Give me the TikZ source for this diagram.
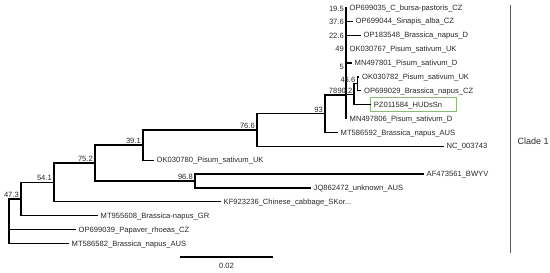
\documentclass[tikz,border=0pt]{standalone}
\usepackage{fontspec}
\setmainfont{Liberation Sans}
\usetikzlibrary{positioning}

\definecolor{boxgreen}{RGB}{140,185,120}
\definecolor{txtgray}{RGB}{40,40,40}

\tikzset{
    branch/.style={line width=1.2pt, line cap=rect},
    leaf/.style={inner sep=0pt, text height=5.4pt, text depth=0.2pt,
        font=\fontsize{7.6}{9}\selectfont, text=txtgray},
    boot/.style={inner sep=0pt, font=\fontsize{7.6}{9}\selectfont, text=txtgray},
    markbox/.style={leaf, draw=boxgreen, line width=0.7pt, inner xsep=3.5pt,
        inner ysep=4.2pt, text width=79pt, align=left}
}

\begin{document}
\begin{tikzpicture}[x=1pt,y=-1pt]

    \useasboundingbox (0,0) rectangle (550,273);

    % inner nodes
    \coordinate (root) at (9,199);
    \coordinate (n47) at (21,199);
    \coordinate (n54) at (54,182.4);
    \coordinate (n75) at (95,163);
    \coordinate (n96) at (195,181);
    \coordinate (n39) at (143,145);
    \coordinate (n76) at (257,130);
    \coordinate (n93) at (325,113.7);
    \coordinate (n78) at (346,95);
    \coordinate (n90) at (354,94.3);
    \coordinate (n45) at (357.5,83.8);

    % tips and their labels
    \foreach \n/\x/\lbl in {
        1/346/OP699035\_C\_bursa-pastoris\_CZ,
        2/352/OP699044\_Sinapis\_alba\_CZ,
        3/360/OP183548\_Brassica\_napus\_D,
        4/346/OK030767\_Pisum\_sativum\_UK,
        5/351/MN497801\_Pisum\_sativum\_D,
        6/358.5/OK030782\_Pisum\_sativum\_UK,
        7/360.5/OP699029\_Brassica\_napus\_CZ,
        9/346/MN497806\_Pisum\_sativum\_D,
        10/337/MT586592\_Brassica\_napus\_AUS,
        11/443/NC\_003743,
        12/153/OK030780\_Pisum\_sativum\_UK,
        13/423/AF473561\_BWYV,
        14/310/JQ862472\_unknown\_AUS,
        15/220/{KF923236\_Chinese\_cabbage\_SKor{.}{.}{.}},
        16/97/MT955608\_Brassica-napus\_GR,
        17/75/OP699039\_Papaver\_rhoeas\_CZ,
        18/68/MT586582\_Brassica\_napus\_AUS}{
        \coordinate (t\n) at (\x,{7.5+13.88*(\n-1)});
        \node[leaf, right=3.5pt of t\n, anchor=west] (l\n) {\lbl};
    }

    \coordinate (t8) at (370,104.7);
    \node[markbox, anchor=west] (l8) at (t8) {PZ011584\_HUDsSn};

    % branches
    \foreach \p/\c in {root/t17, root/t18, root/n47, n47/t16, n47/n54,
        n54/t15, n54/n75, n75/n39, n75/n96, n96/t13, n96/t14,
        n39/t12, n39/n76, n76/t11, n76/n93, n93/t10, n93/n78,
        n78/t1, n78/t2, n78/t3, n78/t4, n78/t5, n78/t9, n78/n90,
        n90/n45, n90/t8, n45/t6, n45/t7}{
        \draw[branch] (\p) |- (\c);
    }

    % support values
    \foreach \n/\v in {n47/47.3, n54/54.1, n75/75.2, n96/96.8,
        n39/39.1, n76/76.6, n93/93}{
        \node[boot, above left=1.3pt and 2pt of \n] {\v};
    }

    \node[boot, anchor=east] (s1) at (344,8.5) {19.5};
    \node[boot, anchor=east] (s2) at (344,22) {37.6};
    \node[boot, anchor=east] (s3) at (344,35.5) {22.6};
    \node[boot, anchor=east] (s4) at (344,48.5) {49};
    \node[boot, anchor=east] (s5) at (344,66.5) {5};
    \node[boot, anchor=east] (s6) at (355.5,80) {46.6};
    \node[boot, anchor=east] (s7) at (337.5,91) {78};
    \node[boot, anchor=east] (s8) at (352.5,91) {90.2};

    % clade bar
    \coordinate (ctop) at (510,5);
    \coordinate (cbot) at (510,253);
    \draw[line width=0.8pt, black!65] (ctop) -- (cbot);
    \node[font=\fontsize{9}{11}\selectfont, text=txtgray, anchor=west]
        (clade) at (514,141) {Clade 1};

    % scale
    \coordinate (sbl) at (180,257);
    \coordinate (sbr) at (273,257);
    \draw[line width=1.4pt] (sbl) -- (sbr)
        node[boot, midway, below=5pt] (scale) {0.02};

\end{tikzpicture}
\end{document}
